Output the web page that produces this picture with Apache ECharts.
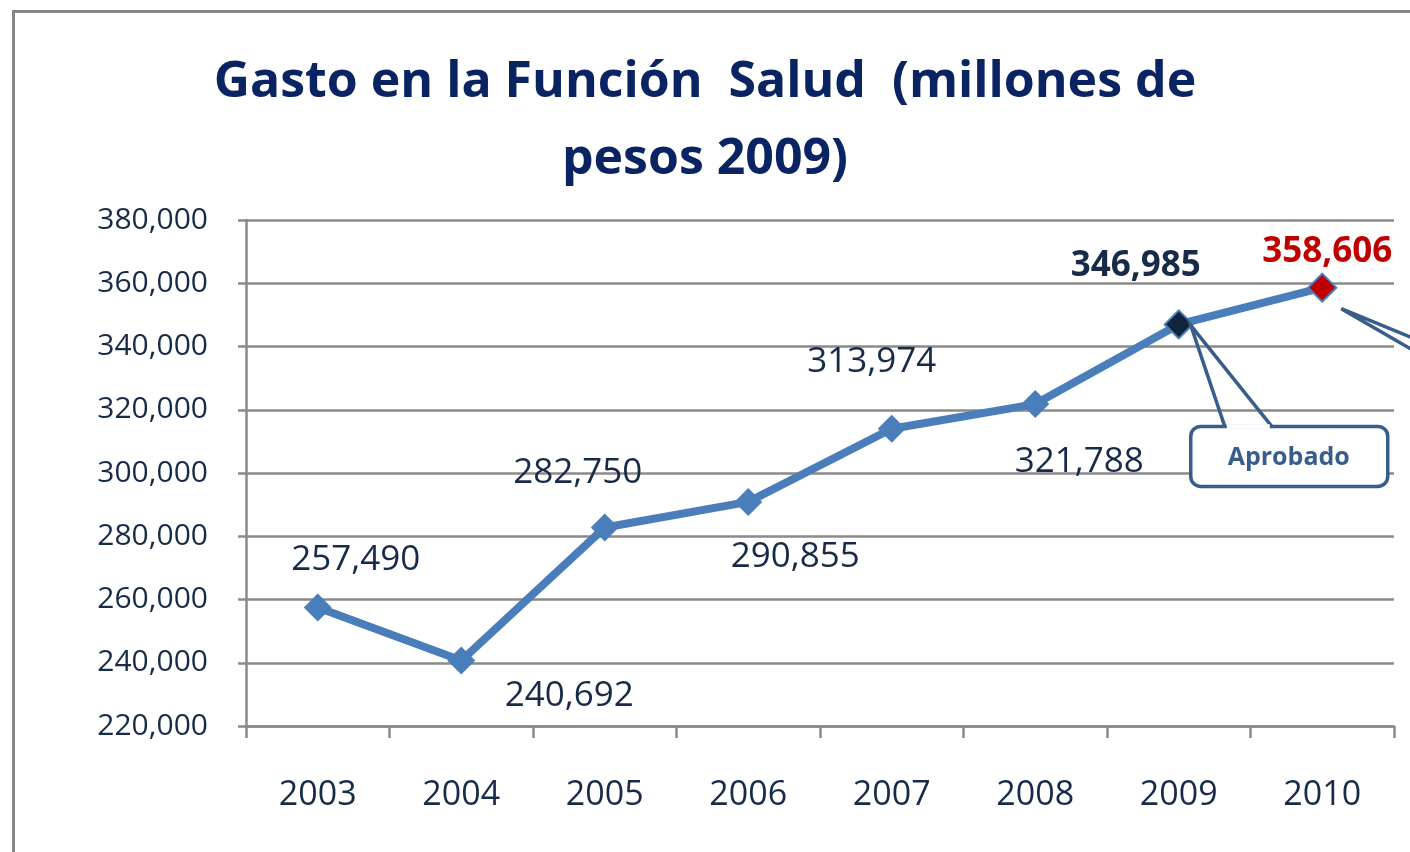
<!DOCTYPE html>
<html>
<head>
<meta charset="utf-8">
<script src="https://cdn.jsdelivr.net/npm/echarts@6/dist/echarts.min.js"></script>
<style>
  html, body { margin: 0; padding: 0; background: #fff; }
  #chart { width: 1410px; height: 852px; }
</style>
</head>
<body>
<div id="chart"></div>
<script>
// datos del gráfico
const years = ['2003', '2004', '2005', '2006', '2007', '2008', '2009', '2010']
const gasto = [257490, 240692, 282750, 290855, 313974, 321788, 346985, 358606]
const yTicks = { min: 220000, max: 380000, step: 20000 }

// desplazamiento de cada etiqueta respecto a su punto (px)
const labelShift = [[38, -47], [108, 35], [-27, -55], [47, 55], [-20, -67], [44, 58], [-43, -58], [5, -36]]

const navy = '#172B48'
const lineBlue = '#4A7EBB'
const gridGray = '#8A8A8A'
const font = '"Open Sans", "Noto Sans", sans-serif'

const chart = echarts.init(document.getElementById('chart'))

const points = gasto.map((v, i) => {
  const item = {
    value: v,
    label: {
      show: true,
      position: 'inside',
      offset: labelShift[i],
      color: navy,
      fontSize: 35,
      fontFamily: font,
      formatter: (p) => p.value.toLocaleString('en-US')
    }
  }
  if (i === 6) {
    item.itemStyle = { color: '#10243E', borderColor: lineBlue, borderWidth: 2 }
    item.label.fontWeight = 'bold'
  }
  if (i === 7) {
    item.itemStyle = { color: '#C00000', borderColor: lineBlue, borderWidth: 2 }
    item.label.fontWeight = 'bold'
    item.label.color = '#C00000'
  }
  return item
})

chart.setOption({
  animation: false,
  title: {
    text: 'Gasto en la Función  Salud  (millones de\npesos 2009)',
    left: 'center',
    top: 39,
    textStyle: {
      color: '#0A2463',
      fontSize: 50,
      fontWeight: 'bold',
      fontFamily: font,
      lineHeight: 77
    }
  },
  grid: { left: 246, right: 16, top: 220, bottom: 126 },
  xAxis: {
    type: 'category',
    data: years,
    boundaryGap: true,
    axisLine: { lineStyle: { color: gridGray, width: 2.5 } },
    axisTick: { show: true, length: 12, lineStyle: { color: gridGray, width: 2.5 } },
    axisLabel: { color: navy, fontSize: 34, fontFamily: font, margin: 52 }
  },
  yAxis: {
    type: 'value',
    min: yTicks.min,
    max: yTicks.max,
    interval: yTicks.step,
    axisLine: { show: true, lineStyle: { color: gridGray, width: 2.5 } },
    axisTick: { show: true, length: 8, lineStyle: { color: gridGray, width: 2.5 } },
    splitLine: { lineStyle: { color: gridGray, width: 2.5 } },
    axisLabel: {
      color: navy,
      fontSize: 30,
      fontFamily: font,
      margin: 38,
      formatter: (v) => v.toLocaleString('en-US')
    }
  },
  series: [
    {
      type: 'line',
      data: points,
      symbol: 'diamond',
      symbolSize: 28,
      lineStyle: { color: lineBlue, width: 8 },
      itemStyle: { color: lineBlue },
      z: 5
    }
  ]
})

// recuadros y flechas de las llamadas, anclados a los puntos 2009 y 2010
function drawCallouts() {
  const p09 = chart.convertToPixel({ seriesIndex: 0 }, [6, gasto[6]])
  const p10 = chart.convertToPixel({ seriesIndex: 0 }, [7, gasto[7]])
  const calloutColor = '#385D8A'
  const ax = p09[0] + 12, ay = p09[1] + 1
  const boxX = p09[0] + 12, boxY = p09[1] + 102
  chart.setOption({
    graphic: [
      {
        type: 'rect',
        left: 11, top: 9,
        shape: { width: 1600, height: 1000 },
        style: { fill: 'none', stroke: '#868686', lineWidth: 3 },
        silent: true
      },
      {
        type: 'rect',
        shape: { x: boxX, y: boxY, width: 197, height: 60, r: 10 },
        style: { fill: '#fff', stroke: calloutColor, lineWidth: 3.5 },
        z: 10
      },
      {
        type: 'polyline',
        shape: { points: [[boxX + 34, boxY], [ax, ay], [boxX + 81, boxY]] },
        style: { stroke: calloutColor, lineWidth: 3.5, fill: 'none' },
        z: 11
      },
      {
        type: 'line',
        shape: { x1: boxX + 36, y1: boxY, x2: boxX + 79, y2: boxY },
        style: { stroke: '#fff', lineWidth: 4.5 },
        z: 11
      },
      {
        type: 'text',
        x: boxX + 98, y: boxY + 31,
        style: {
          text: 'Aprobado',
          fill: calloutColor,
          font: 'bold 25px "Open Sans", sans-serif',
          align: 'center',
          verticalAlign: 'middle'
        },
        z: 12
      },
      {
        type: 'polyline',
        shape: { points: [[1412, p10[1] + 50], [p10[0] + 19, p10[1] + 21], [1412, p10[1] + 62]] },
        style: { stroke: calloutColor, lineWidth: 3.5, fill: 'none' },
        z: 11
      }
    ]
  })
}
drawCallouts()
</script>
</body>
</html>
